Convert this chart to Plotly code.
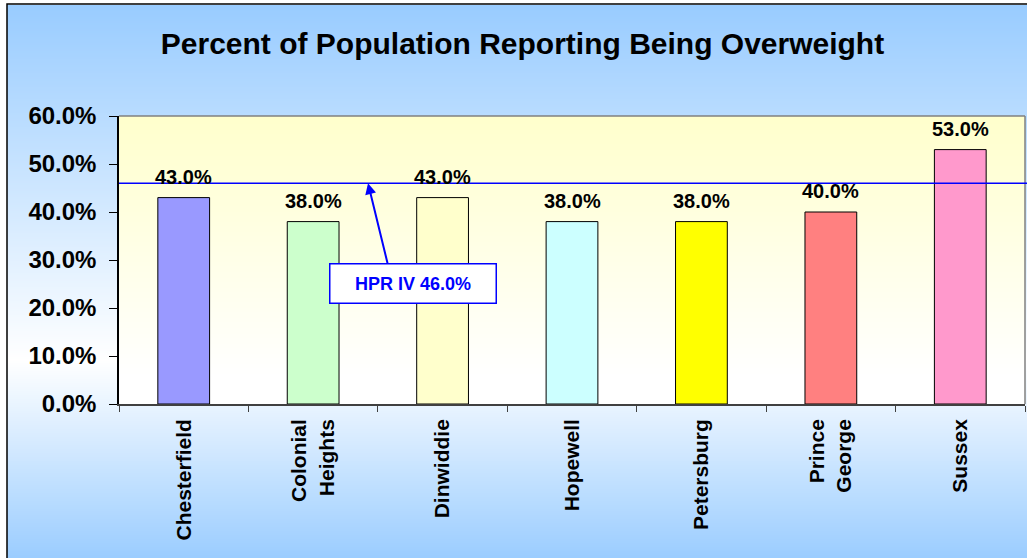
import plotly.graph_objects as go

# ---- data ----
localities = ["Chesterfield", "Colonial<br>Heights", "Dinwiddie", "Hopewell",
              "Petersburg", "Prince<br>George", "Sussex"]
overweight_pct = [0.43, 0.38, 0.43, 0.38, 0.38, 0.40, 0.53]
bar_colors = ["#9999FF", "#CCFFCC", "#FFFFCC", "#CCFFFF", "#FFFF00", "#FF8080", "#FF99CC"]
hpr_target = 0.46
hpr_label = "HPR IV"
y_ticks = [0.0, 0.1, 0.2, 0.3, 0.4, 0.5, 0.6]

# ---- page geometry (pixels) ----
W, H = 1027, 558
L, R, T, B = 119, 1025, 116, 404
FONT = "Liberation Sans, Arial, Helvetica, sans-serif"


def xp(px):
    return (px - L) / (R - L)


def yp(py):
    return (B - py) / (B - T)


def mix(c1, c2, t):
    return "rgb(%d,%d,%d)" % tuple(round(a + (b - a) * t) for a, b in zip(c1, c2))


BLUE = (153, 204, 255)
WHITE = (255, 255, 255)
CREAM = (255, 255, 204)

shapes = []

# chart-area background: blue at top and bottom, white band in the middle
top_px, bot_px, mid_px = 5, 560, 360
step = 2
py = top_px
while py < bot_px:
    if py < mid_px:
        t = (mid_px - py) / (mid_px - top_px)
    else:
        t = (py - mid_px) / (bot_px - mid_px)
    shapes.append(dict(type="rect", xref="paper", yref="paper", layer="below",
                       x0=xp(7), x1=xp(1040), y0=yp(py + step + 0.6), y1=yp(py),
                       line=dict(width=0), fillcolor=mix(WHITE, BLUE, t)))
    py += step

# plot-area background: pale yellow fading to white
py = T
while py < B:
    t = min(1.0, (py - T) / ((B - T) * 0.9))
    shapes.append(dict(type="rect", xref="paper", yref="paper", layer="below",
                       x0=0, x1=1, y0=max(0, yp(py + step + 0.6)), y1=yp(py),
                       line=dict(width=0), fillcolor=mix(CREAM, WHITE, t)))
    py += step

# plot-area frame (top and right) in grey
shapes.append(dict(type="line", xref="paper", yref="paper", x0=0, x1=1, y0=1, y1=1,
                   line=dict(color="#808080", width=1.5)))
shapes.append(dict(type="line", xref="paper", yref="paper", x0=1, x1=1, y0=0, y1=1,
                   line=dict(color="#808080", width=1.5)))

# outer chart border
shapes.append(dict(type="rect", xref="paper", yref="paper",
                   x0=xp(7), x1=xp(1040), y0=yp(570), y1=yp(4),
                   line=dict(color="#000000", width=1.5), fillcolor="rgba(0,0,0,0)"))

# HPR IV reference line
shapes.append(dict(type="line", xref="paper", yref="y", x0=0, x1=xp(1027),
                   y0=hpr_target, y1=hpr_target, line=dict(color="#0000FF", width=1.5)))

fig = go.Figure()
fig.add_trace(go.Bar(
    x=localities, y=overweight_pct, width=0.4,
    marker=dict(color=bar_colors, line=dict(color="#000000", width=1)),
    hoverinfo="skip", showlegend=False,
))

annotations = []
for cat, v in zip(localities, overweight_pct):
    annotations.append(dict(x=cat, y=v, xref="x", yref="y", text="<b>%.1f%%</b>" % (v * 100),
                            showarrow=False, yanchor="middle", yshift=21,
                            font=dict(family=FONT, size=20, color="#000000")))

# callout for the HPR IV target: arrow and boxed label
annotations.append(dict(x=1.424, y=hpr_target, xref="x", yref="y", text="",
                        showarrow=True, arrowhead=2, arrowsize=1.1, arrowwidth=2,
                        arrowcolor="#0000FF", ax=20, ay=82, standoff=0))
annotations.append(dict(x=1.775, y=0.252, xref="x", yref="y",
                        text="<b>%s %.1f%%</b>" % (hpr_label, hpr_target * 100),
                        showarrow=False, width=161, height=34, borderpad=2,
                        bgcolor="#FFFFFF", bordercolor="#0000FF", borderwidth=1.5,
                        font=dict(family=FONT, size=18, color="#0000FF")))

fig.update_layout(
    width=W, height=H,
    margin=dict(l=L, r=W - R, t=T, b=H - B, pad=0),
    paper_bgcolor="#FFFFFF", plot_bgcolor="rgba(0,0,0,0)",
    title=dict(text="<b>Percent of Population Reporting Being Overweight</b>",
               x=522.5 / W, xanchor="center", y=1 - 43 / H, yanchor="middle",
               font=dict(family=FONT, size=30, color="#000000")),
    shapes=shapes, annotations=annotations,
    bargap=0.6, showlegend=False,
    xaxis=dict(type="category", tickangle=-90, tickson="boundaries",
               ticks="outside", ticklen=6, tickcolor="#404040", tickwidth=1,
               ticklabelstandoff=5,
               showline=True, linecolor="#404040", linewidth=1.5,
               showgrid=False, zeroline=False,
               tickfont=dict(family=FONT, size=21, color="#000000", weight="bold")),
    yaxis=dict(range=[0, 0.6], tickvals=y_ticks, tickformat=".1%",
               ticks="outside", ticklen=8, tickcolor="#000000", tickwidth=1,
               ticklabelstandoff=8,
               showline=True, linecolor="#000000", linewidth=1.5,
               showgrid=False, zeroline=False,
               tickfont=dict(family=FONT, size=24, color="#000000", weight="bold")),
)

fig.write_html("out.html")
